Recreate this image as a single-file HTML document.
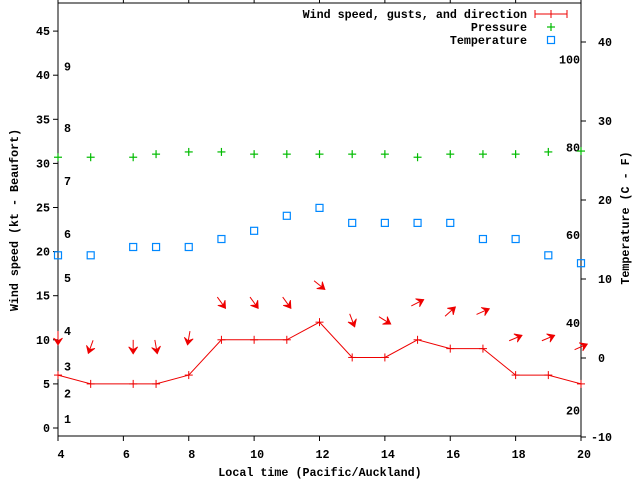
<!DOCTYPE html>
<html><head><meta charset="utf-8"><style>
html,body{margin:0;padding:0;background:#fff}
svg{display:block;font-family:"Liberation Mono","DejaVu Sans Mono",monospace;font-size:11.7px;font-weight:bold}
</style></head><body>
<svg id="chart" width="640" height="480" viewBox="0 0 640 480" xmlns="http://www.w3.org/2000/svg">
<rect width="640" height="480" fill="#fff"/>
<g id="axes"></g>
<g id="marks"></g>
<g id="legend">
  <text x="527" y="18" text-anchor="end">Wind speed, gusts, and direction</text>
  <g stroke="#e00" stroke-width="1"><line x1="535" y1="14" x2="567" y2="14"/><line x1="535" y1="10" x2="535" y2="18"/><line x1="567" y1="10" x2="567" y2="18"/><line x1="551" y1="10" x2="551" y2="18"/></g>
  <text x="527" y="31" text-anchor="end">Pressure</text>
  <g stroke="#0b0" stroke-width="1.2"><line x1="547" y1="27" x2="555" y2="27"/><line x1="551" y1="23" x2="551" y2="31"/></g>
  <text x="527" y="44" text-anchor="end">Temperature</text>
  <rect x="547.5" y="36.5" width="7" height="7" fill="none" stroke="#08f" stroke-width="1.2"/>
</g>
<text x="0" y="0" transform="translate(18,220) rotate(-90)" text-anchor="middle">Wind speed (kt - Beaufort)</text>
<text x="0" y="0" transform="translate(629,218) rotate(-90)" text-anchor="middle">Temperature (C - F)</text>
<text x="320" y="476" text-anchor="middle">Local time (Pacific/Auckland)</text>
</svg>
<script>
const times = [4,5,6.3,7,8,9,10,11,12,13,14,15,16,17,18,19,20];
const windKt = [6,5,5,5,6,10,10,10,12,8,8,10,9,9,6,6,5];
const windDir = [0,20,0,350,10,324,324,324,309,339,302,243,228,246,247,247,246];
const pressure = [30.7,30.7,30.7,31.05,31.3,31.3,31.05,31.05,31.05,31.05,31.05,30.7,31.05,31.05,31.05,31.3,31.4];
const tempC = [13.0,13.0,14.05,14.05,14.05,15.06,16.1,18.0,19.0,17.1,17.1,17.1,17.1,15.06,15.06,13.0,12.0];
const xTicks = [4,6,8,10,12,14,16,18,20];
const yLeftTicks = [0,5,10,15,20,25,30,35,40,45];
const yRightTicks = [-10,0,10,20,30,40];
const fahrenheitLabels = [20,40,60,80,100];
const beaufortLabels = [1,2,3,4,5,6,7,8,9];
const beaufortKt = [1.0,3.9,7.0,11.0,17.0,22.0,28.0,34.0,41.0];

const L=58,R=581,T=3,B=436;
const xs=t=>L+(t-4)/16*(R-L);
const yw=v=>428-v*8.82;
const yt=c=>437-(c+10)*7.9;
const NS="http://www.w3.org/2000/svg";
function mk(tag,attrs,parent){const e=document.createElementNS(NS,tag);for(const k in attrs)e.setAttribute(k,attrs[k]);parent.appendChild(e);return e;}
const axes=document.getElementById('axes'), marks=document.getElementById('marks');

let e=mk('rect',{x:L,y:T,width:R-L,height:B-T,fill:'none',stroke:'#000','stroke-width':1},axes);


xTicks.forEach(t=>{
  const x=xs(t);
  mk('line',{x1:x,y1:B,x2:x,y2:B+5,stroke:'#000'},axes);
  mk('line',{x1:x,y1:T,x2:x,y2:T-5,stroke:'#000'},axes);
  const tx=mk('text',{x:x+3,y:458,'text-anchor':'middle'},axes);tx.textContent=t;
  
  
});
yLeftTicks.forEach(v=>{
  const y=yw(v);
  mk('line',{x1:L-5,y1:y,x2:L,y2:y,stroke:'#000'},axes);
  const tx=mk('text',{x:50,y:y+4,'text-anchor':'end'},axes);tx.textContent=v;
  
  
});
yRightTicks.forEach(v=>{
  const y=yt(v);
  mk('line',{x1:R,y1:y,x2:R+5,y2:y,stroke:'#000'},axes);
  const tx=mk('text',{x:v<0?591:598,y:y+4},axes);tx.textContent=v;
  
  
});
fahrenheitLabels.forEach(f=>{
  const tx=mk('text',{x:580,y:yt((f-32)*5/9)+4,'text-anchor':'end'},axes);tx.textContent=f;
  
  
});
beaufortLabels.forEach((b,i)=>{
  const tx=mk('text',{x:64,y:yw(beaufortKt[i])+4},axes);tx.textContent=b;
  
  
});

const pts=times.map((t,i)=>xs(t)+','+yw(windKt[i])).join(' ');
e=mk('polyline',{points:pts,fill:'none',stroke:'#e00','stroke-width':1},marks);


times.forEach((t,i)=>{
  const x=xs(t),y=yw(windKt[i]);
  const g=mk('g',{stroke:'#e00'},marks);
  
  
  mk('line',{x1:x-4,y1:y,x2:x+4,y2:y},g);mk('line',{x1:x,y1:y-4,x2:x,y2:y+4},g);
  const d=windDir[i]*Math.PI/180,dx=-Math.sin(d),dy=Math.cos(d);
  const cx=x,cy=yw(windKt[i]+4.2),len=14;
  const x1=cx-dx*len/2,y1=cy-dy*len/2,x2=cx+dx*len/2,y2=cy+dy*len/2;
  const a=mk('g',{},marks);
  
  
  mk('line',{x1:x1,y1:y1,x2:x2,y2:y2,stroke:'#e00'},a);
  const px=-dy,py=dx,h=7,w=4.5;
  mk('polygon',{points:`${x2},${y2} ${x2-dx*h+px*w},${y2-dy*h+py*w} ${x2-dx*h*0.6},${y2-dy*h*0.6} ${x2-dx*h-px*w},${y2-dy*h-py*w}`,fill:'#e00',stroke:'#e00','stroke-width':0.8},a);
});
times.forEach((t,i)=>{
  const x=xs(t),y=yw(pressure[i]);
  const g=mk('g',{stroke:'#0b0','stroke-width':1.2},marks);
  
  
  mk('line',{x1:x-4,y1:y,x2:x+4,y2:y},g);mk('line',{x1:x,y1:y-4,x2:x,y2:y+4},g);
});
times.forEach((t,i)=>{
  const x=xs(t),y=yt(tempC[i]);
  const r=mk('rect',{x:x-3.5,y:y-3.5,width:7,height:7,fill:'none',stroke:'#08f','stroke-width':1.2},marks);
  
  
});
</script>
</body></html>
